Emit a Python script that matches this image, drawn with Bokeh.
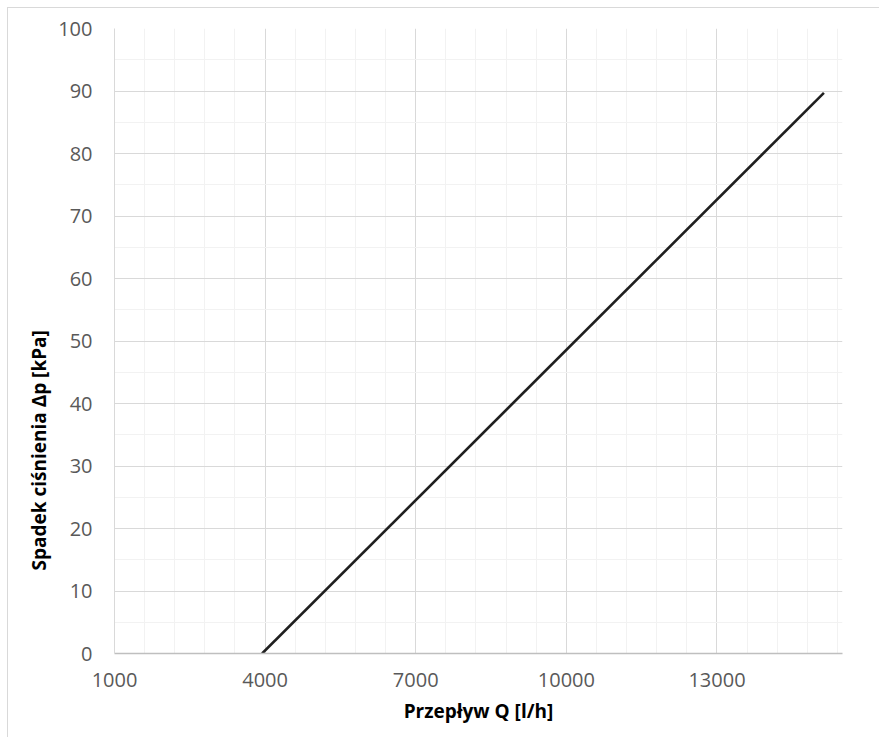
from bokeh.plotting import figure
from bokeh.models import FixedTicker, Range1d, Title
from bokeh.embed import file_html
from bokeh.resources import INLINE

# Data
flow_q = [3940, 15130]          # Przepływ Q [l/h]
pressure_dp = [0.0, 89.7]       # Spadek ciśnienia Δp [kPa]

x_major_ticks = [1000, 4000, 7000, 10000, 13000]
x_minor_ticks = [1600, 2200, 2800, 3400, 4600, 5200, 5800, 6400, 7600, 8200,
                 8800, 9400, 10600, 11200, 11800, 12400, 13600, 14200, 14800, 15400]
y_major_ticks = [0, 10, 20, 30, 40, 50, 60, 70, 80, 90, 100]
y_minor_ticks = [5, 15, 25, 35, 45, 55, 65, 75, 85, 95]

W, H = 872, 730
p = figure(width=W, height=H, output_backend="svg", toolbar_location=None,
           x_range=Range1d(1000, 15500), y_range=Range1d(0, 100),
           min_border_left=106, min_border_top=20, min_border_right=38,
           min_border_bottom=85)
p.styles = {"margin-left": "7px", "margin-top": "7px",
            "border-left": "1px solid #d9d9d9", "border-top": "1px solid #d9d9d9"}
p.outline_line_color = None
p.background_fill_color = "white"
p.border_fill_color = "white"

p.xaxis.ticker = FixedTicker(ticks=x_major_ticks, minor_ticks=x_minor_ticks)
p.yaxis.ticker = FixedTicker(ticks=y_major_ticks, minor_ticks=y_minor_ticks)

for g in (p.xgrid, p.ygrid):
    g.grid_line_color = "#d9d9d9"
    g.grid_line_width = 1
    g.minor_grid_line_color = "#f2f2f2"
    g.minor_grid_line_width = 1

font = "Open Sans"
for ax in (p.xaxis, p.yaxis):
    ax.major_tick_line_color = None
    ax.minor_tick_line_color = None
    ax.major_tick_out = 0
    ax.major_tick_in = 0
    ax.minor_tick_out = 0
    ax.major_label_text_font = font
    ax.major_label_text_font_size = "20px"
    ax.major_label_text_color = "#595959"
    ax.axis_label_text_font = font
    ax.axis_label_text_font_size = "19px"
    ax.axis_label_text_font_style = "bold"
    ax.axis_label_text_color = "#000000"

p.xaxis.axis_line_color = "#bfbfbf"
p.xaxis.axis_line_width = 1.5
p.yaxis.axis_line_color = "#d9d9d9"
p.xaxis.major_label_standoff = 19
p.yaxis.major_label_standoff = 22
p.xaxis.axis_label = "Przepływ Q [l/h]"
p.xaxis.axis_label_standoff = 8

ytitle = Title(text="Spadek ciśnienia Δp [kPa]", align="left", offset=83,
               text_font=font, text_font_size="19px", text_font_style="bold",
               text_color="#000000", standoff=8)
p.add_layout(ytitle, "left")

p.line(flow_q, pressure_dp, line_color="#1f1f1f", line_width=2.6)

open("out.html", "w").write(file_html(p, INLINE))
